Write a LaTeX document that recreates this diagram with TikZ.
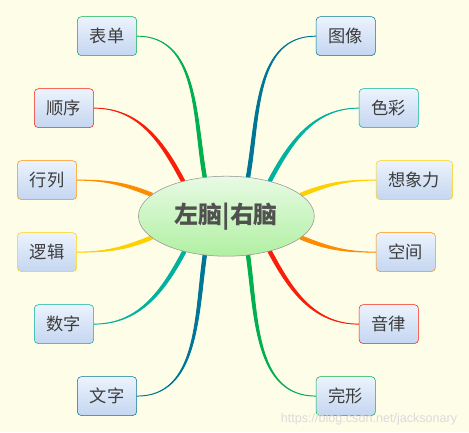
\documentclass[tikz,border=0pt]{standalone}
\usepackage{fontspec}
\setmainfont{Liberation Sans}
\newfontfamily\cjk{Noto Sans CJK SC}
\usetikzlibrary{shapes.geometric}
\definecolor{paper}{RGB}{253,253,232}
\definecolor{ink}{RGB}{60,60,60}
\definecolor{leaftop}{RGB}{236,243,253}
\definecolor{leafbot}{RGB}{196,214,240}
\definecolor{cgreen}{RGB}{0,176,80}
\definecolor{cred}{RGB}{250,30,10}
\definecolor{corange}{RGB}{255,140,0}
\definecolor{cyellow}{RGB}{255,208,0}
\definecolor{cteal}{RGB}{0,178,158}
\definecolor{cblue}{RGB}{0,118,150}
\pgfdeclarelayer{branch}
\pgfsetlayers{branch,main}

\begin{document}
\begin{tikzpicture}[
  leaf/.style={draw=#1,rounded corners=3pt,top color=leaftop,bottom color=leafbot,
    minimum height=1.03cm,inner xsep=0.33cm,text=ink,font=\cjk\fontsize{13}{15}\selectfont},
  branch/.style={fill=#1,draw=#1,line width=0.7pt,line join=round}]
\useasboundingbox (0,0) rectangle (12.43,11.45);
\begin{pgfonlayer}{branch}
\fill[paper] (0,0) rectangle (12.43,11.45);
\end{pgfonlayer}
% centre
\node[ellipse,draw=gray!85,top color={rgb,255:red,232;green,250;blue,228},
  bottom color={rgb,255:red,176;green,240;blue,162},minimum width=4.66cm,minimum height=2.12cm,
  text={rgb,255:red,80;green,80;blue,80},font=\cjk\fontsize{18}{20}\selectfont\bfseries] (brain) at (6.0,5.72) {左脑|右脑};
% left and right leaves
\foreach \n/\t/\x/\c [count=\i] in {form/表单/3.63/cgreen,order/顺序/2.49/cred,matrix/行列/2.04/corange,
    logic/逻辑/2.04/cyellow,number/数字/2.49/cteal,word/文字/3.63/cblue}
  \node[leaf=\c,anchor=east] (\n) at (\x,12.4-1.908*\i) {\t};
\foreach \n/\t/\x/\c [count=\i] in {image/图像/8.37/cblue,colour/色彩/9.51/cteal,fancy/想象力/9.96/cyellow,
    space/空间/9.96/corange,rhythm/音律/9.51/cred,gestalt/完形/8.37/cgreen}
  \node[leaf=\c,anchor=west] (\n) at (\x,12.4-1.908*\i) {\t};
% tapered branches
\begin{pgfonlayer}{branch}
\foreach \n/\a/\o/\c in {form/119/100/cgreen,order/141/118/cred,matrix/164/158/corange,
    logic/196/202/cyellow,number/220/242/cteal,word/241/262/cblue}
  \filldraw[branch=\c] ([shift={({\o+90}:1.3pt)}]brain.\a) to[out=\o,in=0] (\n.east)
    to[out=0,in=\o] ([shift={({\o-90}:1.3pt)}]brain.\a) -- cycle;
\foreach \n/\a/\o/\c in {image/61/80/cblue,colour/39/62/cteal,fancy/16/22/cyellow,
    space/344/338/corange,rhythm/321/298/cred,gestalt/299/278/cgreen}
  \filldraw[branch=\c] ([shift={({\o+90}:1.3pt)}]brain.\a) to[out=\o,in=180] (\n.west)
    to[out=180,in=\o] ([shift={({\o-90}:1.3pt)}]brain.\a) -- cycle;
\end{pgfonlayer}
\node[text=gray!28,font=\fontsize{9.5}{11}\selectfont] (mark) at (9.78,0.34) {https://blog.csdn.net/jacksonary};
\end{tikzpicture}
\end{document}
